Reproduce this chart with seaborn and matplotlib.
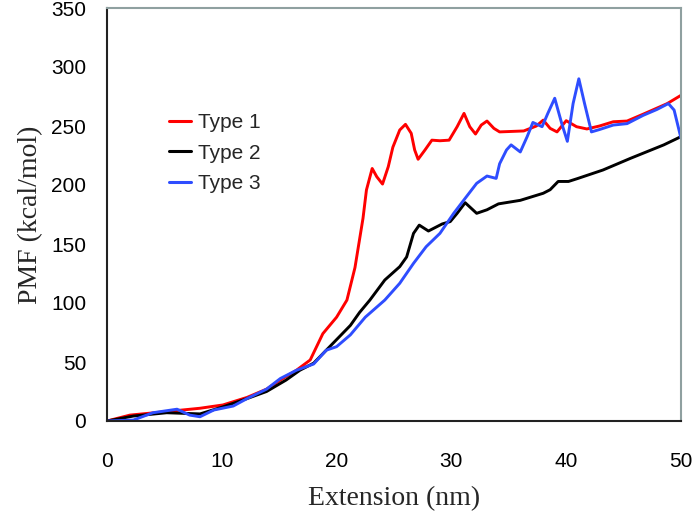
import matplotlib
matplotlib.use("Agg")
import matplotlib.pyplot as plt
import seaborn as sns
import pandas as pd

# Data
t1_x = [0, 2.0, 5.2, 8.1, 10.1, 12.2, 13.9, 15.1, 16.5, 17.7, 18.8, 20.0, 20.9, 21.6, 22.3, 22.6, 23.1, 23.5, 24.0, 24.5, 24.9, 25.5, 26.0, 26.5, 26.8, 27.1, 27.7, 28.3, 29.0, 29.8, 30.5, 31.1, 31.6, 32.1, 32.6, 33.1, 33.7, 34.2, 36.3, 37.4, 38.0, 38.6, 39.2, 40.0, 40.9, 41.8, 42.9, 44.1, 45.3, 46.7, 48.8, 50.0]
t1_y = [0, 5, 8, 10.8, 13.6, 20, 27, 34.7, 43, 51.7, 74, 88, 102.5, 130, 171.8, 195.8, 214, 207, 200.8, 215.5, 232, 246.6, 251.4, 243.8, 229.7, 221.8, 229.7, 238, 237.5, 238, 249.4, 260.7, 249.4, 243.2, 250.8, 254.2, 248, 245, 245.8, 250, 255, 248, 245, 254.5, 249.4, 247.5, 250, 253.6, 254.2, 260, 269, 276]

t2_x = [0, 2.3, 5.2, 8.1, 10.1, 12.2, 13.9, 15.6, 16.8, 18.0, 19.7, 21.2, 22.0, 22.9, 24.2, 25.5, 26.1, 26.7, 27.2, 28.0, 29.2, 29.9, 30.5, 31.2, 32.2, 33.1, 34.1, 36.0, 38.0, 38.6, 39.3, 40.2, 41.0, 43.2, 45.6, 48.5, 50.0]
t2_y = [0, 4.2, 7, 6, 12, 19, 25, 34.7, 43, 49, 66, 81, 92, 102.5, 119.5, 130.8, 139, 159, 166, 161, 167, 169, 176, 185, 176, 179, 184, 187, 193, 196, 203, 203, 205.5, 212.7, 222.6, 234, 241]

t3_x = [0, 2.3, 4.0, 6.1, 7.2, 8.1, 9.3, 11.0, 12.2, 13.9, 15.1, 16.5, 18.0, 19.1, 20.0, 21.2, 22.5, 24.2, 25.5, 26.7, 27.8, 29.0, 30.2, 31.3, 32.2, 33.1, 33.9, 34.2, 34.8, 35.2, 36.0, 36.6, 37.1, 37.9, 38.4, 39.0, 39.6, 40.1, 40.6, 41.1, 41.6, 42.2, 42.9, 44.1, 45.3, 46.7, 47.9, 48.9, 49.4, 50.0]
t3_y = [0, 0.8, 7, 10, 5, 3.6, 9.3, 12.7, 19, 27, 36, 43, 48.3, 60, 63, 73, 88, 102.5, 116.7, 133.6, 147.7, 159, 176, 190, 201.4, 207.6, 205.6, 218, 229.7, 234, 228, 241, 253, 249.4, 260.7, 273.5, 252.5, 237, 269, 290, 269, 245, 247, 250.8, 252, 259, 264, 269, 263.5, 239.6]

labels = ["Type 1", "Type 2", "Type 3"]
colors = ["#ff0000", "#000000", "#2e4dff"]

frames = []
for lab, xs, ys in zip(labels, [t1_x, t2_x, t3_x], [t1_y, t2_y, t3_y]):
    frames.append(pd.DataFrame({"x": xs, "y": ys, "series": lab}))
df = pd.concat(frames, ignore_index=True)

sns.set_style("white")
plt.rcParams['font.family'] = ['Liberation Sans', 'DejaVu Sans']

fig = plt.figure(figsize=(6.96, 5.17), dpi=100)
ax = fig.add_axes([107/696, 96/517, 574/696, 413/517])

sns.lineplot(data=df, x="x", y="y", hue="series", palette=colors,
             sort=False, estimator=None, linewidth=2.1, ax=ax)
for ln in ax.get_lines():
    ln.set_solid_joinstyle('round')

ax.set_xlim(0, 50)
ax.set_ylim(0, 350)
ax.set_xticks([0, 10, 20, 30, 40, 50])
ax.set_yticks(range(0, 351, 50))

ax.tick_params(axis='x', direction='in', length=7, width=1.2, pad=22,
               labelsize=15, colors='#222222', labelcolor='black')
ax.tick_params(axis='y', direction='out', length=6, width=1.2, pad=9,
               labelsize=15, colors='#222222', labelcolor='black')

for s in ['left', 'bottom']:
    ax.spines[s].set_color('#222222')
    ax.spines[s].set_linewidth(1.5)
for s in ['top', 'right']:
    ax.spines[s].set_color('#8fa0a0')
    ax.spines[s].set_linewidth(1.5)

ax.set_xlabel("Extension (nm)", family=['Liberation Serif'], fontsize=20, labelpad=11)
ax.set_ylabel("PMF (kcal/mol)", family=['Liberation Serif'], fontsize=20, labelpad=6)

leg = ax.legend(loc='upper left', bbox_to_anchor=(0.108, 0.745), frameon=False,
                fontsize=15, handlelength=1.05, handletextpad=0.35,
                labelspacing=0.55, borderpad=0, borderaxespad=0, title=None)
for line in leg.get_lines():
    line.set_linewidth(2.2)

fig.savefig("out.png", dpi=100)
